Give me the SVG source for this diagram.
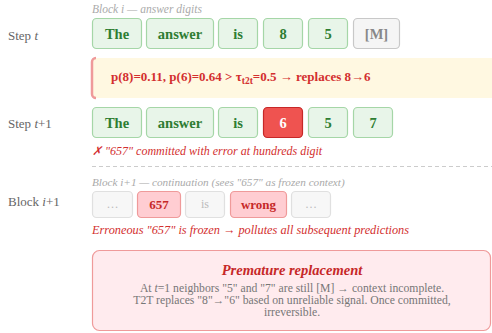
<svg xmlns="http://www.w3.org/2000/svg" width="492" height="333" viewBox="0 0 492 333" font-family="'Liberation Serif', 'Times New Roman', 'DejaVu Serif', serif">
<style>
text{font-family:'Liberation Serif','Times New Roman','DejaVu Serif',serif}
.lbl{font-size:13px;fill:#666}
.cap{font-size:11.5px;font-style:italic;fill:#aaa}
.tk{fill:#e8f5e9;stroke:#a5d6a7;stroke-width:1.2}
.tkt{font-size:14.5px;font-weight:bold;fill:#2e7d32;text-anchor:middle}
.mk{fill:#f5f5f5;stroke:#c8c8c8;stroke-width:1.2}
.mkt{font-size:14.5px;font-weight:bold;fill:#888;text-anchor:middle}
.gr{fill:#f7f7f7;stroke:#e0e0e0;stroke-width:1.2}
.grt{font-size:12px;fill:#bbb;text-anchor:middle}
.pk{fill:#ffcdd2;stroke:#ef9a9a;stroke-width:1.2}
.pkt{font-size:13px;font-weight:bold;fill:#c62828;text-anchor:middle}
.err{font-style:italic;fill:#d32f2f}
</style>
<g id="labels">
<text class="lbl" x="8" y="40">Step <tspan font-style="italic">t</tspan></text>
<text class="lbl" x="8" y="128">Step <tspan font-style="italic">t</tspan>+1</text>
<text class="lbl" x="8" y="206">Block <tspan font-style="italic">i</tspan>+1</text>
<text class="cap" x="92" y="13">Block i — answer digits</text>
<text class="cap" x="92" y="186" style="font-size:11.2px">Block i+1 — continuation (sees "657" as frozen context)</text>
</g>
<g id="row-t">
<g id="t-the"><rect class="tk" x="92.5" y="18.5" width="49" height="30" rx="4"/><text class="tkt" x="117" y="38.5">The</text></g>
<g id="t-answer"><rect class="tk" x="146.5" y="18.5" width="67" height="30" rx="4"/><text class="tkt" x="180" y="38.5">answer</text></g>
<g id="t-is"><rect class="tk" x="218.5" y="18.5" width="39" height="30" rx="4"/><text class="tkt" x="238" y="38.5">is</text></g>
<g id="t-8"><rect class="tk" x="263.5" y="18.5" width="39" height="30" rx="4"/><text class="tkt" x="283" y="38.5">8</text></g>
<g id="t-5"><rect class="tk" x="308.5" y="18.5" width="39" height="30" rx="4"/><text class="tkt" x="328" y="38.5">5</text></g>
<g id="t-M"><rect class="mk" x="353.5" y="18.5" width="46" height="30" rx="4"/><text class="mkt" x="376.5" y="38.5">[M]</text></g>
</g>
<g id="note-t">
<rect x="92" y="58" width="410" height="40" rx="4" fill="#fff8e1"/>
<path d="M96,58 a4,4 0 0 0 -4,4 v32 a4,4 0 0 0 4,4" fill="none" stroke="#ef9a9a" stroke-width="2.5"/>
<text x="111" y="81" font-size="13" font-weight="bold" fill="#d32f2f">p(8)=0.11, p(6)=0.64 &gt; τ<tspan font-size="9.5" dy="3">t2t</tspan><tspan dy="-3">=0.5 → replaces 8→6</tspan></text>
</g>
<g id="row-t1">
<g id="t1-the"><rect class="tk" x="92.5" y="107.5" width="49" height="30" rx="4"/><text class="tkt" x="117" y="127.5">The</text></g>
<g id="t1-answer"><rect class="tk" x="146.5" y="107.5" width="67" height="30" rx="4"/><text class="tkt" x="180" y="127.5">answer</text></g>
<g id="t1-is"><rect class="tk" x="218.5" y="107.5" width="39" height="30" rx="4"/><text class="tkt" x="238" y="127.5">is</text></g>
<g id="t1-6"><rect x="263.5" y="107.5" width="39" height="30" rx="4" fill="#ef5350" stroke="#c62828" stroke-width="1.2"/><text class="tkt" x="283" y="127.5" style="fill:#fff">6</text></g>
<g id="t1-5"><rect class="tk" x="308.5" y="107.5" width="39" height="30" rx="4"/><text class="tkt" x="328" y="127.5">5</text></g>
<g id="t1-7"><rect class="tk" x="353.5" y="107.5" width="39" height="30" rx="4"/><text class="tkt" x="373" y="127.5">7</text></g>
<text class="err" x="92" y="155" font-size="12">✗ "657" committed with error at hundreds digit</text>
</g>
<g id="connectors">
<line x1="92" y1="166.5" x2="492" y2="166.5" stroke="#ccc" stroke-width="1" stroke-dasharray="4,3"/>
</g>
<g id="row-b">
<g id="b-dots1"><rect class="gr" x="92.5" y="191.5" width="40" height="26" rx="4"/><text class="grt" x="112.5" y="208">…</text></g>
<g id="b-657"><rect class="pk" x="137.5" y="191.5" width="43" height="26" rx="4"/><text class="pkt" x="159" y="208.5">657</text></g>
<g id="b-is"><rect class="gr" x="185.5" y="191.5" width="39" height="26" rx="4"/><text class="grt" x="205" y="208">is</text></g>
<g id="b-wrong"><rect class="pk" x="230.5" y="191.5" width="56" height="26" rx="4"/><text class="pkt" x="258.5" y="208.5">wrong</text></g>
<g id="b-dots2"><rect class="gr" x="291.5" y="191.5" width="39" height="26" rx="4"/><text class="grt" x="311" y="208">…</text></g>
<text class="err" x="92" y="234" font-size="12.3">Erroneous "657" is frozen → pollutes all subsequent predictions</text>
</g>
<g id="summary">
<rect x="92.5" y="250.5" width="398" height="80" rx="7" fill="#ffebee" stroke="#ef9a9a" stroke-width="1.2"/>
<text x="292" y="275" font-size="14.5" font-weight="bold" font-style="italic" fill="#c62828" text-anchor="middle">Premature replacement</text>
<text x="292" y="292" font-size="11.7" fill="#777" text-anchor="middle">At <tspan font-style="italic">t</tspan>=1 neighbors "5" and "7" are still [M] → context incomplete.</text>
<text x="292" y="304" font-size="11.7" fill="#777" text-anchor="middle">T2T replaces "8"→"6" based on unreliable signal. Once committed,</text>
<text x="292" y="316" font-size="11.7" fill="#777" text-anchor="middle">irreversible.</text>
</g>
</svg>
